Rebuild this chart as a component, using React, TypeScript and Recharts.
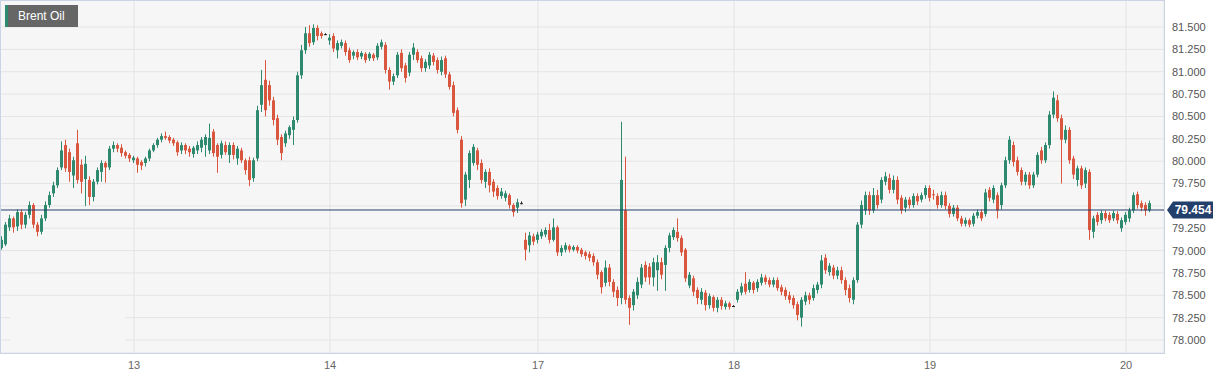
import { Bar, CartesianGrid, ComposedChart, ReferenceLine, XAxis, YAxis } from "recharts";

// each candle: [open, close, high, low]
type Candle = [number, number, number, number];

const day12: Candle[] = [
  [79.03, 79.12, 79.16, 79.01], [79.07, 79.29, 79.32, 79.05], [79.26, 79.36, 79.4, 79.22], [79.36, 79.26, 79.38, 79.2],
  [79.27, 79.43, 79.46, 79.22], [79.43, 79.29, 79.46, 79.24], [79.29, 79.4, 79.43, 79.25], [79.4, 79.51, 79.55, 79.36],
  [79.51, 79.29, 79.53, 79.25], [79.29, 79.21, 79.32, 79.16], [79.21, 79.36, 79.4, 79.18], [79.36, 79.51, 79.55, 79.33],
  [79.51, 79.62, 79.66, 79.48], [79.64, 79.73, 79.77, 79.6], [79.73, 79.9, 79.93, 79.7], [79.93, 80.12, 80.22, 79.9],
  [80.18, 79.92, 80.24, 79.88], [80.1, 79.88, 80.14, 79.77], [79.84, 80.01, 80.05, 79.7], [80.2, 79.79, 80.35, 79.75],
  [79.96, 79.77, 80.02, 79.64], [79.8, 79.97, 80.06, 79.5], [79.79, 79.6, 79.83, 79.51], [79.6, 79.77, 79.8, 79.55],
  [79.77, 79.9, 79.93, 79.74], [79.88, 79.98, 80.01, 79.77], [79.98, 79.93, 80.0, 79.76], [79.93, 80.14, 80.17, 79.9],
  [80.14, 80.18, 80.22, 80.1], [80.18, 80.14, 80.2, 80.1], [80.15, 80.09, 80.19, 80.05], [80.1, 80.06, 80.12, 80.03],
  [80.07, 80.03, 80.09, 79.99],
];

const day13: Candle[] = [
  [80.01, 80.04, 80.06, 79.98], [80.03, 79.96, 80.05, 79.87], [79.99, 79.95, 80.01, 79.9], [79.98, 80.03, 80.05, 79.94],
  [80.03, 80.12, 80.14, 80.0], [80.12, 80.18, 80.2, 80.1], [80.18, 80.24, 80.26, 80.15], [80.24, 80.28, 80.31, 80.21],
  [80.28, 80.26, 80.33, 80.24], [80.27, 80.23, 80.29, 80.2], [80.24, 80.2, 80.26, 80.17], [80.21, 80.1, 80.23, 80.06],
  [80.12, 80.18, 80.21, 80.08], [80.18, 80.12, 80.2, 80.08], [80.14, 80.1, 80.17, 80.05], [80.08, 80.15, 80.17, 80.04],
  [80.12, 80.18, 80.22, 80.08], [80.15, 80.24, 80.27, 80.1], [80.18, 80.27, 80.3, 80.05], [80.12, 80.26, 80.42, 80.08],
  [80.33, 80.09, 80.36, 80.05], [80.18, 80.05, 80.2, 79.87], [80.07, 80.2, 80.23, 80.03], [80.18, 80.1, 80.22, 80.07],
  [80.07, 80.18, 80.21, 79.98], [80.18, 80.07, 80.21, 80.02], [80.03, 80.14, 80.17, 79.96], [80.12, 80.01, 80.15, 79.98],
  [80.01, 79.9, 80.03, 79.85], [80.01, 79.79, 80.05, 79.72], [79.81, 80.01, 80.04, 79.77], [80.03, 80.57, 80.62, 80.0],
  [80.63, 80.85, 81.02, 80.55], [80.91, 80.57, 81.13, 80.5], [80.85, 80.68, 80.9, 80.62], [80.68, 80.46, 80.72, 80.4],
  [80.48, 80.24, 80.52, 80.18], [80.27, 80.09, 80.3, 80.01], [80.2, 80.31, 80.34, 80.16], [80.29, 80.38, 80.4, 80.25],
  [80.35, 80.46, 80.5, 80.18], [80.46, 80.96, 81.0, 80.43], [80.96, 81.24, 81.3, 80.92], [81.24, 81.43, 81.5, 81.2],
  [81.43, 81.32, 81.52, 81.28], [81.33, 81.49, 81.53, 81.3], [81.49, 81.4, 81.52, 81.35], [81.43, 81.4, 81.45, 81.37],
  [81.42, 81.42, 81.43, 81.41],
];

const day14: Candle[] = [
  [81.35, 81.38, 81.42, 81.3], [81.4, 81.26, 81.43, 81.22], [81.24, 81.32, 81.35, 81.15], [81.29, 81.33, 81.36, 81.26],
  [81.32, 81.22, 81.35, 81.18], [81.24, 81.13, 81.27, 81.1], [81.18, 81.22, 81.24, 81.14], [81.22, 81.16, 81.25, 81.13],
  [81.17, 81.21, 81.23, 81.14], [81.2, 81.13, 81.22, 81.1], [81.15, 81.2, 81.22, 81.12], [81.19, 81.15, 81.21, 81.12],
  [81.16, 81.29, 81.32, 81.13], [81.28, 81.33, 81.36, 81.25], [81.3, 81.02, 81.33, 80.98], [81.02, 80.89, 81.05, 80.8],
  [80.89, 80.95, 80.98, 80.85], [80.96, 81.19, 81.22, 80.93], [81.21, 81.04, 81.25, 81.0], [81.07, 80.93, 81.1, 80.88],
  [80.99, 81.19, 81.22, 80.95], [81.19, 81.27, 81.32, 81.13], [81.22, 81.13, 81.25, 81.1], [81.15, 81.04, 81.18, 81.0],
  [81.04, 81.11, 81.14, 81.0], [81.07, 81.19, 81.22, 81.03], [81.18, 81.11, 81.21, 81.07], [81.13, 81.02, 81.16, 80.98],
  [81.0, 81.13, 81.17, 80.96], [81.15, 80.97, 81.18, 80.93], [80.97, 80.83, 81.0, 80.8], [80.85, 80.54, 80.89, 80.5],
  [80.57, 80.35, 80.6, 80.31], [80.24, 79.53, 80.28, 79.48], [79.57, 79.85, 79.88, 79.5], [79.79, 80.09, 80.12, 79.7],
  [79.98, 80.16, 80.19, 79.95], [80.12, 79.96, 80.15, 79.9], [79.98, 79.79, 80.02, 79.75], [79.77, 79.88, 79.91, 79.7],
  [79.88, 79.73, 79.92, 79.65], [79.77, 79.66, 79.8, 79.6], [79.7, 79.61, 79.73, 79.57], [79.61, 79.66, 79.7, 79.58],
  [79.59, 79.64, 79.67, 79.55], [79.62, 79.51, 79.64, 79.47], [79.51, 79.43, 79.53, 79.38], [79.48, 79.54, 79.58, 79.42],
  [79.53, 79.53, 79.55, 79.52],
];

const day17: Candle[] = [
  [79.12, 79.01, 79.2, 78.89], [79.06, 79.17, 79.21, 78.98], [79.16, 79.1, 79.19, 79.06], [79.12, 79.18, 79.21, 79.08],
  [79.16, 79.21, 79.24, 79.13], [79.18, 79.23, 79.26, 79.15], [79.23, 79.12, 79.3, 79.08], [79.12, 79.26, 79.36, 79.1],
  [79.26, 78.98, 79.28, 78.94], [78.98, 79.03, 79.06, 78.94], [79.01, 79.06, 79.09, 78.98], [79.05, 79.01, 79.07, 78.98],
  [79.01, 79.04, 79.06, 78.99], [79.04, 79.0, 79.06, 78.97], [79.01, 78.96, 79.03, 78.93], [78.98, 78.94, 79.0, 78.9],
  [78.96, 78.92, 78.99, 78.88], [78.94, 78.87, 78.97, 78.83], [78.87, 78.73, 78.9, 78.68], [78.76, 78.59, 78.78, 78.52],
  [78.64, 78.81, 78.89, 78.6], [78.81, 78.65, 78.85, 78.6], [78.65, 78.54, 78.68, 78.48], [78.56, 78.47, 78.6, 78.38],
  [78.47, 79.79, 80.44, 78.4], [79.45, 78.45, 80.05, 78.4], [78.47, 78.36, 78.5, 78.17], [78.39, 78.54, 78.57, 78.33],
  [78.5, 78.65, 78.7, 78.46], [78.62, 78.81, 78.85, 78.58], [78.84, 78.7, 78.88, 78.65], [78.82, 78.7, 78.86, 78.62],
  [78.7, 78.87, 78.92, 78.6], [78.78, 78.87, 78.95, 78.55], [78.87, 78.73, 78.92, 78.68], [78.84, 79.03, 79.06, 78.55],
  [79.03, 79.17, 79.2, 78.98], [79.15, 79.23, 79.26, 79.12], [79.21, 79.14, 79.36, 79.1], [79.14, 78.98, 79.17, 78.94],
  [79.01, 78.69, 79.03, 78.65], [78.61, 78.73, 78.76, 78.58], [78.69, 78.54, 78.72, 78.49], [78.56, 78.47, 78.59, 78.4],
  [78.45, 78.54, 78.58, 78.4], [78.53, 78.39, 78.56, 78.33], [78.39, 78.49, 78.52, 78.35], [78.48, 78.36, 78.5, 78.32],
  [78.36, 78.45, 78.48, 78.31], [78.45, 78.38, 78.48, 78.34], [78.37, 78.41, 78.44, 78.34], [78.41, 78.37, 78.43, 78.34],
  [78.38, 78.38, 78.39, 78.37],
];

const day18: Candle[] = [
  [78.45, 78.54, 78.57, 78.42], [78.53, 78.6, 78.64, 78.5], [78.63, 78.54, 78.76, 78.51], [78.56, 78.65, 78.68, 78.53],
  [78.64, 78.56, 78.66, 78.52], [78.58, 78.65, 78.68, 78.54], [78.64, 78.7, 78.74, 78.61], [78.7, 78.65, 78.73, 78.62],
  [78.67, 78.62, 78.7, 78.59], [78.62, 78.67, 78.7, 78.59], [78.67, 78.58, 78.7, 78.55], [78.59, 78.54, 78.62, 78.5],
  [78.56, 78.49, 78.59, 78.45], [78.5, 78.45, 78.54, 78.41], [78.47, 78.39, 78.5, 78.35], [78.4, 78.28, 78.43, 78.22],
  [78.25, 78.45, 78.48, 78.15], [78.43, 78.5, 78.54, 78.39], [78.5, 78.45, 78.53, 78.4], [78.47, 78.58, 78.62, 78.44],
  [78.56, 78.62, 78.65, 78.52], [78.62, 78.89, 78.95, 78.58], [78.92, 78.78, 78.96, 78.74], [78.76, 78.83, 78.86, 78.72],
  [78.81, 78.72, 78.84, 78.68], [78.72, 78.78, 78.82, 78.68], [78.78, 78.67, 78.82, 78.63], [78.67, 78.56, 78.7, 78.5],
  [78.58, 78.47, 78.62, 78.42], [78.45, 78.67, 78.7, 78.4], [78.67, 79.29, 79.32, 78.64], [79.29, 79.51, 79.56, 79.25],
  [79.45, 79.62, 79.66, 79.4], [79.62, 79.45, 79.66, 79.4], [79.45, 79.62, 79.7, 79.42], [79.62, 79.51, 79.68, 79.47],
  [79.57, 79.79, 79.82, 79.53], [79.77, 79.83, 79.88, 79.73], [79.81, 79.68, 79.86, 79.64], [79.68, 79.79, 79.84, 79.64],
  [79.79, 79.57, 79.83, 79.52], [79.59, 79.45, 79.62, 79.41], [79.48, 79.57, 79.6, 79.43], [79.57, 79.51, 79.6, 79.47],
  [79.51, 79.61, 79.64, 79.48], [79.61, 79.55, 79.64, 79.51], [79.57, 79.62, 79.65, 79.54], [79.62, 79.7, 79.73, 79.58],
  [79.7, 79.59, 79.73, 79.55],
];

const day19: Candle[] = [
  [79.63, 79.62, 79.68, 79.57], [79.61, 79.51, 79.64, 79.47], [79.51, 79.62, 79.66, 79.48], [79.62, 79.5, 79.66, 79.46],
  [79.5, 79.41, 79.53, 79.37], [79.41, 79.48, 79.51, 79.38], [79.48, 79.36, 79.51, 79.33], [79.36, 79.3, 79.39, 79.27],
  [79.3, 79.34, 79.37, 79.27], [79.34, 79.29, 79.36, 79.26], [79.3, 79.39, 79.42, 79.27], [79.39, 79.43, 79.46, 79.36],
  [79.43, 79.36, 79.46, 79.33], [79.41, 79.65, 79.69, 79.38], [79.68, 79.59, 79.71, 79.55], [79.57, 79.7, 79.73, 79.53],
  [79.62, 79.45, 79.65, 79.36], [79.51, 79.73, 79.76, 79.46], [79.73, 80.01, 80.05, 79.7], [80.01, 80.24, 80.28, 79.97],
  [80.18, 79.99, 80.22, 79.94], [80.01, 79.88, 80.05, 79.84], [79.9, 79.77, 79.93, 79.73], [79.77, 79.85, 79.88, 79.73],
  [79.85, 79.73, 79.88, 79.69], [79.73, 79.85, 79.88, 79.7], [79.85, 80.07, 80.1, 79.82], [80.12, 80.01, 80.16, 79.97],
  [80.01, 80.18, 80.21, 79.98], [80.18, 80.52, 80.56, 80.14], [80.52, 80.71, 80.78, 80.48], [80.68, 80.48, 80.74, 80.44],
  [80.48, 80.24, 80.52, 79.75], [80.24, 80.35, 80.4, 80.2], [80.35, 80.01, 80.38, 79.97], [80.03, 79.85, 80.06, 79.8],
  [79.79, 79.92, 79.95, 79.72], [79.92, 79.73, 79.95, 79.69], [79.75, 79.9, 79.93, 79.7], [79.88, 79.23, 79.91, 79.12],
  [79.21, 79.36, 79.39, 79.14], [79.4, 79.32, 79.43, 79.28], [79.34, 79.42, 79.45, 79.3], [79.42, 79.36, 79.45, 79.33],
  [79.4, 79.34, 79.43, 79.31], [79.36, 79.42, 79.45, 79.33], [79.41, 79.34, 79.44, 79.3], [79.25, 79.34, 79.37, 79.21],
  [79.32, 79.4, 79.43, 79.29],
];

const day20: Candle[] = [
  [79.36, 79.45, 79.48, 79.32], [79.45, 79.62, 79.65, 79.42], [79.63, 79.51, 79.66, 79.47], [79.53, 79.48, 79.56, 79.44],
  [79.51, 79.45, 79.54, 79.39], [79.45, 79.53, 79.56, 79.43],
];

const sessions = [day12, day13, day14, day17, day18, day19, day20];
const SLOTS = 291;
const dayTicks = [33, 82, 134, 183, 232, 281];
const dayLabels = ["13", "14", "17", "18", "19", "20"];
const priceTicks = [78, 78.25, 78.5, 78.75, 79, 79.25, 79.5, 79.75, 80, 80.25, 80.5, 80.75, 81, 81.25, 81.5];
const LAST_PRICE = 79.454;

const GREEN = "#2e8a6e";
const RED = "#d9573f";
const NAVY = "#233f6c";

const candles = sessions.flat();
const data = Array.from({ length: SLOTS }, (_, i) => {
  const c = candles[i];
  return c ? { t: i, o: c[0], c: c[1], h: c[2], l: c[3] } : { t: i };
});

function CandleShape(props: any) {
  const { x, y, width, height, payload } = props;
  if (payload == null || payload.h == null || height == null) return null;
  const top = Math.min(y, y + height);
  const span = Math.abs(height);
  const px = span / (payload.h - payload.l);
  const yOf = (v: number) => top + (payload.h - v) * px;
  const cx = Math.floor(x + width / 2);
  const color = payload.c === payload.o ? "#222" : payload.c > payload.o ? GREEN : RED;
  const bTop = yOf(Math.max(payload.o, payload.c));
  const bBot = yOf(Math.min(payload.o, payload.c));
  return (
    <g>
      <rect x={cx} y={top} width={1} height={span} fill={color} />
      <rect x={cx - 1} y={bTop} width={3} height={Math.max(1, bBot - bTop)} fill={color} />
    </g>
  );
}

// the last-price tag hides the axis label it sits on
function PriceTick(props: any) {
  const { x, y, payload } = props;
  if (Math.abs(payload.value - LAST_PRICE) < 0.1) return null;
  return (
    <text x={x} y={y} dy="0.355em" fontSize={11} fill="#555">
      {Number(payload.value).toFixed(3)}
    </text>
  );
}

function PriceTag(props: any) {
  const vb = props.viewBox;
  if (!vb) return null;
  const x = vb.x + vb.width;
  const y = vb.y;
  return (
    <g>
      <path d={`M${x + 3},${y} L${x + 9},${y - 8.5} H${x + 49} V${y + 8.5} H${x + 9} Z`} fill={NAVY} />
      <text x={x + 29} y={y} dy="0.36em" textAnchor="middle" fill="#fff" fontSize={12} fontWeight="bold">
        {LAST_PRICE.toFixed(3)}
      </text>
    </g>
  );
}

export default function App() {
  return (
    <div style={{ position: "absolute", left: 0, top: 0, width: 1229, height: 379, fontFamily: "Arial, 'Liberation Sans', sans-serif", background: "#fff" }}>
      <ComposedChart width={1229} height={379} data={data} margin={{ top: 0, right: 0, bottom: 0, left: 0 }} barCategoryGap={0}>
        <CartesianGrid stroke="#e4e4e4" fill="#f6f6f6" />
        <XAxis
          dataKey="t"
          type="category"
          ticks={dayTicks}
          interval={0}
          tickFormatter={(v: number) => dayLabels[dayTicks.indexOf(v)] ?? ""}
          height={26}
          axisLine={false}
          tickLine={false}
          tick={{ fontSize: 11, fill: "#666" }}
        />
        <YAxis
          orientation="right"
          width={65}
          domain={[77.855, 81.802]}
          allowDataOverflow
          ticks={priceTicks}
          interval={0}
          axisLine={false}
          tickLine={false}
          tick={<PriceTick />}
        />
        <Bar
          dataKey={(d: any) => (d.h == null ? null : [d.l, d.h])}
          barSize={4}
          shape={<CandleShape />}
          isAnimationActive={false}
        />
        <ReferenceLine y={LAST_PRICE} stroke={NAVY} strokeWidth={1} label={<PriceTag />} />
      </ComposedChart>
      <div style={{ position: "absolute", left: 0, top: 0, width: 1165, height: 354, border: "1px solid #cdd3e6", boxSizing: "border-box", pointerEvents: "none" }} />
      <div style={{ position: "absolute", left: 10, top: 302, width: 115, height: 50, background: "#f6f6f6" }} />
      <div
        style={{
          position: "absolute", left: 5, top: 5, width: 73, height: 22, background: "#666", borderLeft: `3px solid ${GREEN}`,
          boxSizing: "border-box", color: "#fff", fontSize: 12, lineHeight: "22px", paddingLeft: 10,
        }}
      >
        Brent Oil
      </div>
    </div>
  );
}
